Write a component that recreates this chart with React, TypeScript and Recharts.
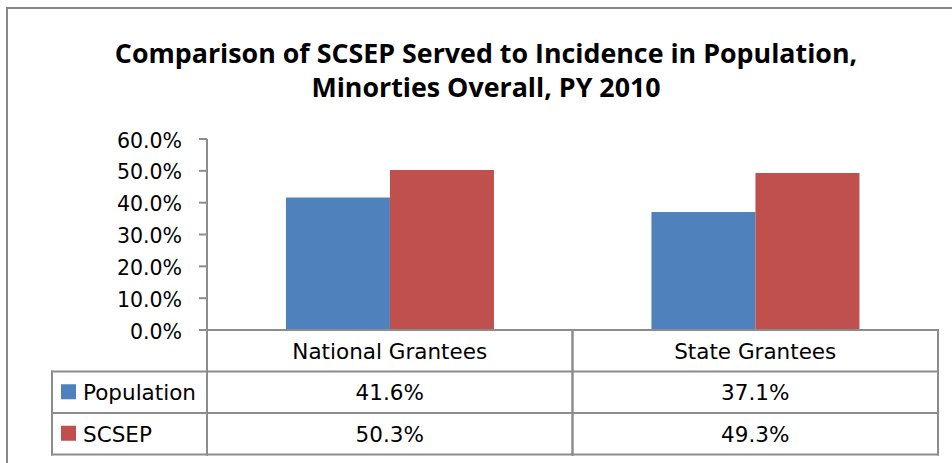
import React from 'react';
import { BarChart, Bar, XAxis, YAxis } from 'recharts';

const categories = ['National Grantees', 'State Grantees'];
const populationValues = [0.416, 0.371];
const scsepValues = [0.503, 0.493];
const yTicks = [0, 0.1, 0.2, 0.3, 0.4, 0.5, 0.6];
const seriesNames = ['Population', 'SCSEP'];
const seriesColors = ['#4F81BD', '#C0504D'];
const titleLines = [
  'Comparison of SCSEP Served to Incidence in Population,',
  'Minorties Overall, PY 2010',
];

const data = categories.map((c, i) => ({
  category: c,
  Population: populationValues[i],
  SCSEP: scsepValues[i],
}));

const pct = (v: number) => (v * 100).toFixed(1) + '%';

const LINE = '#8c8c8c';
const ROW = 41.5;
const LEGEND_W = 155;
const FONT = "'DejaVu Sans', sans-serif";
const TABLE_FS = 21.5;

function YTick(props: any) {
  const { x, y, payload } = props;
  return (
    <text x={x} y={y + 8.5} textAnchor="end" fontFamily={FONT} fontSize={20.5} fill="#000">
      {pct(payload.value)}
    </text>
  );
}

function TableTick(props: any) {
  const { x, y, payload, index } = props;
  const half = payload && payload.offset ? payload.offset : 182.75;
  const left = x - half;
  const right = x + half;
  const i = payload && payload.index != null ? payload.index : index;
  const vals = [populationValues[i], scsepValues[i]];
  const lineProps = { stroke: LINE, strokeWidth: 2, strokeLinecap: 'square' as const };
  return (
    <g>
      <line x1={left} x2={left} y1={y} y2={y + 3 * ROW} {...lineProps} />
      <line x1={right} x2={right} y1={y} y2={y + 3 * ROW} {...lineProps} />
      {[1, 2, 3].map((r) => (
        <line key={r} x1={left} x2={right} y1={y + r * ROW} y2={y + r * ROW} {...lineProps} />
      ))}
      <text x={x} y={y + ROW / 2 + 8} textAnchor="middle" fontFamily={FONT} fontSize={TABLE_FS} fill="#000">
        {payload.value}
      </text>
      {vals.map((v, r) => (
        <text key={r} x={x} y={y + ROW * (r + 1.5) + 8} textAnchor="middle" fontFamily={FONT} fontSize={TABLE_FS} fill="#000">
          {pct(v)}
        </text>
      ))}
      {i === 0 && (
        <g>
          <line x1={left - LEGEND_W} x2={left - LEGEND_W} y1={y + ROW} y2={y + 3 * ROW} {...lineProps} />
          {[1, 2, 3].map((r) => (
            <line key={r} x1={left - LEGEND_W} x2={left} y1={y + r * ROW} y2={y + r * ROW} {...lineProps} />
          ))}
          {seriesNames.map((n, r) => (
            <g key={n}>
              <rect x={left - LEGEND_W + 9} y={y + ROW * (r + 1.5) - 8} width={15} height={15} fill={seriesColors[r]} />
              <text x={left - LEGEND_W + 31} y={y + ROW * (r + 1.5) + 8} fontFamily={FONT} fontSize={TABLE_FS} fill="#000">
                {n}
              </text>
            </g>
          ))}
        </g>
      )}
    </g>
  );
}

export default function App() {
  return (
    <div style={{ position: 'absolute', left: 0, top: 0, width: 952, height: 463, overflow: 'hidden', background: '#fff' }}>
      <div
        style={{
          position: 'absolute',
          left: 6,
          top: 7,
          width: 2000,
          height: 2000,
          border: '2px solid #878787',
          boxSizing: 'border-box',
        }}
      />
      <svg width={952} height={120} style={{ position: 'absolute', left: 0, top: 0 }}>
        {titleLines.map((t, k) => (
          <text
            key={k}
            x={486}
            y={63 + k * 34}
            textAnchor="middle"
            fontFamily="'Open Sans', sans-serif"
            fontWeight="bold"
            fontSize={26.8}
            fill="#000"
          >
            {t}
          </text>
        ))}
      </svg>
      <div style={{ position: 'absolute', left: 0, top: 0 }}>
        <BarChart
          width={952}
          height={463}
          data={data}
          margin={{ top: 139, right: 14, bottom: 0, left: 107 }}
          barCategoryGap="21.6%"
          barGap={0}
        >
          <XAxis
            dataKey="category"
            height={133}
            tickSize={0}
            tickMargin={0}
            tickLine={false}
            axisLine={{ stroke: LINE, strokeWidth: 2 }}
            tick={<TableTick />}
            interval={0}
          />
          <YAxis
            width={100}
            domain={[0, 0.6]}
            ticks={yTicks}
            tickSize={8}
            tickMargin={17}
            tickLine={{ stroke: LINE, strokeWidth: 2 }}
            axisLine={{ stroke: LINE, strokeWidth: 2 }}
            tick={<YTick />}
            interval={0}
          />
          <Bar dataKey="Population" fill={seriesColors[0]} isAnimationActive={false} />
          <Bar dataKey="SCSEP" fill={seriesColors[1]} isAnimationActive={false} />
        </BarChart>
      </div>
    </div>
  );
}
